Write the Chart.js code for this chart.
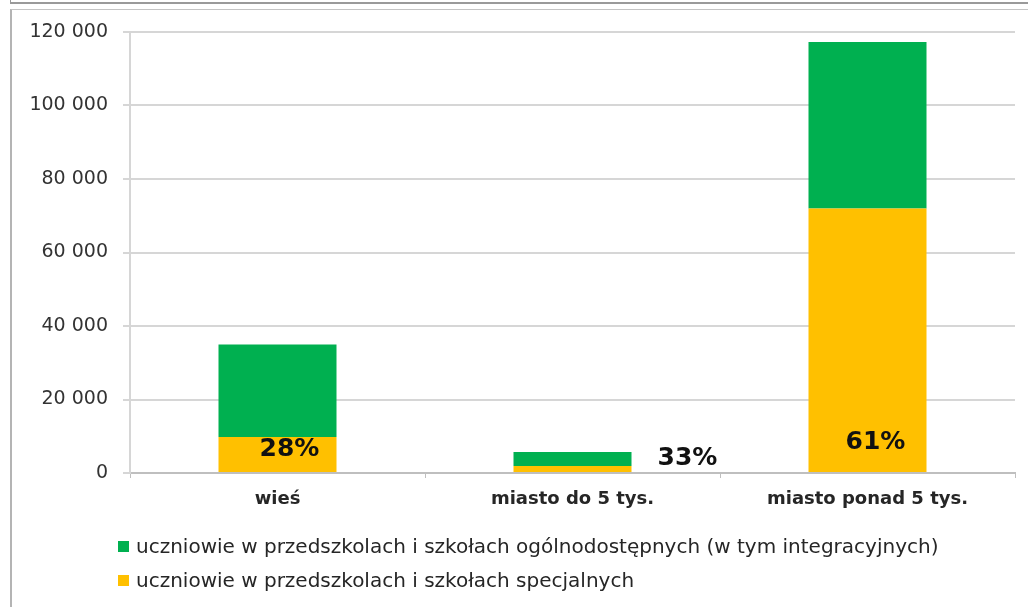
<!DOCTYPE html>
<html>
<head>
<meta charset="utf-8">
<script src="https://cdn.jsdelivr.net/npm/chart.js@4/dist/chart.umd.min.js"></script>
<style>
    html, body { margin: 0; padding: 0; background: #fff; }
    body { width: 1028px; height: 607px; position: relative; overflow: hidden; font-family: "DejaVu Sans", sans-serif; }
    .frame-top { position: absolute; left: 10px; top: -10px; width: 1100px; height: 12px; border: 1px solid #9a9a9a; border-top: none; border-bottom-width: 2px; }
    .frame { position: absolute; left: 10px; top: 9px; width: 1100px; height: 700px; border-left: 2px solid #b4b4b4; border-top: 1px solid #c4c4c4; }
    #wrap { position: absolute; left: 0; top: 0; width: 1028px; height: 607px; }
    .legend { position: absolute; left: 118px; font-size: 20px; color: #262626; white-space: nowrap; line-height: 22px; }
    .legend span.box { display: inline-block; width: 11px; height: 11px; margin-right: 7px; vertical-align: 1px; }
</style>
</head>
<body>
<div class="frame-top"></div>
<div class="frame"></div>
<div id="wrap"><canvas id="chart" width="1028" height="607"></canvas></div>
<div class="legend" id="legend"></div>

<script>
    // categories and series
    const categories = ['wieś', 'miasto do 5 tys.', 'miasto ponad 5 tys.'];
    const specialValues = [9800, 1900, 72000];     // uczniowie w przedszkolach i szkołach specjalnych
    const generalValues = [25200, 3800, 45300];    // ogólnodostępnych (w tym integracyjnych)
    const shareLabels = ['28%', '33%', '61%'];
    const yTicks = [0, 20000, 40000, 60000, 80000, 100000, 120000];

    const seriesNames = [
        'uczniowie w przedszkolach i szkołach ogólnodostępnych (w tym integracyjnych)',
        'uczniowie w przedszkolach i szkołach specjalnych'
    ];

    const GREEN = '#00b050';
    const YELLOW = '#ffc000';
    const GRID = '#d6d6d6';

    function formatThousands(v) {
        return String(v).replace(/\B(?=(\d{3})+(?!\d))/g, ' ');
    }

    // percentage labels drawn next to the yellow segments
    const shareLabelPlugin = {
        id: 'shareLabels',
        afterDatasetsDraw(chart, args, opts) {
            const meta = chart.getDatasetMeta(0);
            const ctx = chart.ctx;
            ctx.save();
            ctx.font = 'bold 25px "DejaVu Sans"';
            ctx.fillStyle = '#111';
            ctx.textAlign = 'center';
            ctx.textBaseline = 'middle';
            meta.data.forEach((bar, i) => {
                const p = bar.getProps(['x', 'base', 'width'], true);
                const off = opts.offsets[i];
                ctx.fillText(shareLabels[i], p.x + off[0], p.base + off[1]);
            });
            ctx.restore();
        }
    };

    const chart = new Chart(document.getElementById('chart'), {
        type: 'bar',
        data: {
            labels: categories,
            datasets: [
                { label: seriesNames[1], data: specialValues, backgroundColor: YELLOW },
                { label: seriesNames[0], data: generalValues, backgroundColor: GREEN }
            ]
        },
        options: {
            responsive: false,
            animation: false,
            layout: { padding: { left: 0, top: 32, right: 13, bottom: 0 } },
            datasets: { bar: { barPercentage: 0.4, categoryPercentage: 1 } },
            plugins: {
                legend: { display: false },
                tooltip: { enabled: false },
                shareLabels: { offsets: [[12, -23], [115, -14], [8, -30]] }
            },
            scales: {
                x: {
                    stacked: true,
                    offset: true,
                    afterFit: (scale) => { scale.height = 607 - 473; },
                    grid: { display: true, drawOnChartArea: false, offset: true, color: '#bfbfbf', lineWidth: 1, tickLength: 5 },
                    border: { display: true, color: '#bfbfbf', width: 2 },
                    ticks: {
                        padding: 11,
                        color: '#262626',
                        font: { family: 'DejaVu Sans', size: 18, weight: 'bold' }
                    }
                },
                y: {
                    stacked: true,
                    min: 0,
                    max: 120000,
                    afterFit: (scale) => { scale.width = 130; },
                    afterBuildTicks: (scale) => { scale.ticks = yTicks.map(v => ({ value: v })); },
                    grid: { color: GRID, lineWidth: 2, tickLength: 7 },
                    border: { display: true, color: GRID, width: 2 },
                    ticks: {
                        padding: 15,
                        color: '#333',
                        font: { family: 'DejaVu Sans', size: 19 },
                        callback: (v) => formatThousands(v)
                    }
                }
            }
        },
        plugins: [shareLabelPlugin]
    });

    // legend as two rows below the chart
    const legendColors = [GREEN, YELLOW];
    const legendTops = [535, 569];
    const legend = document.getElementById('legend');
    legend.style.top = '0px';
    seriesNames.forEach((name, i) => {
        const row = document.createElement('div');
        row.style.position = 'absolute';
        row.style.top = legendTops[i] + 'px';
        row.innerHTML = `<span class="box" style="background:${legendColors[i]}"></span>${name}`;
        legend.appendChild(row);
    });
</script>
</body>
</html>
